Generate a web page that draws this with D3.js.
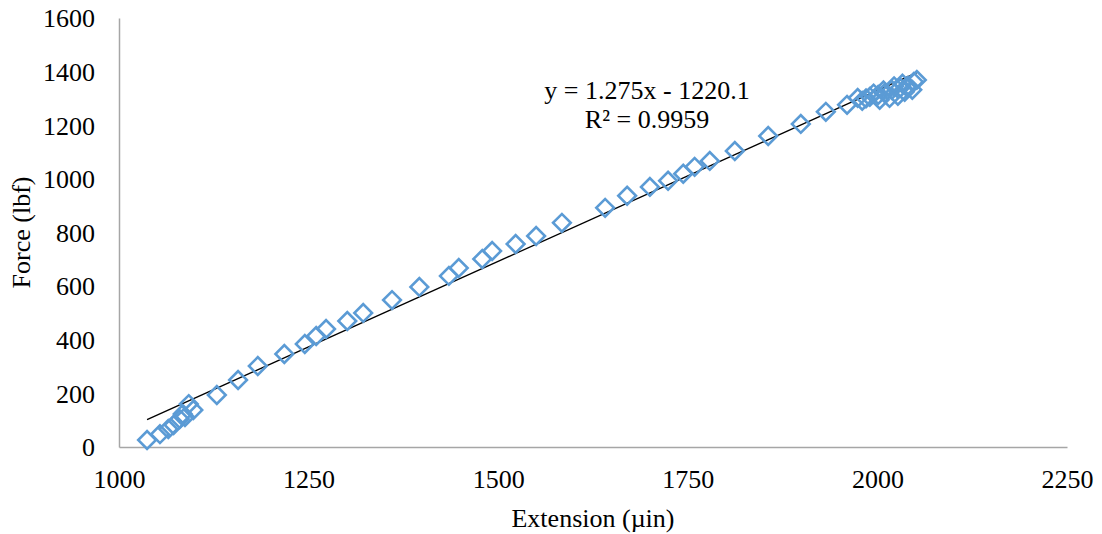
<!DOCTYPE html>
<html>
<head>
<meta charset="utf-8">
<script src="https://cdn.jsdelivr.net/npm/d3@7"></script>
<style>
  html, body { margin: 0; padding: 0; background: #fff; }
  svg { display: block; }
  text { font-family: "Liberation Serif", "Times New Roman", serif; fill: #000; }
</style>
</head>
<body>
<svg id="chart" width="1102" height="534"></svg>
<script>
// ---- data ----
const extension = [
  1037, 1054, 1065, 1072, 1080, 1084, 1092, 1098, 1087,
  1129, 1157, 1183, 1218, 1245, 1260, 1273, 1301, 1322,
  1360, 1396, 1435, 1448, 1479, 1492, 1523, 1550, 1584,
  1641, 1670, 1700, 1724, 1744, 1759, 1779, 1812, 1856,
  1899, 1932, 1960, 1974, 1980, 1990, 2001, 2010, 2019,
  2030, 2040, 2048, 2003, 2016, 2027, 2036, 2046, 2052,
  1985, 1995, 2008, 2022, 2033
];
const force = [
  26, 48, 67, 82, 104, 123, 160, 138, 112,
  194, 250, 302, 347, 384, 414, 440, 470, 500,
  548, 597, 638, 668, 701, 731, 757, 787, 836,
  892, 937, 970, 993, 1019, 1045, 1067, 1104, 1160,
  1205, 1250, 1276, 1302, 1291, 1306, 1313, 1321, 1332,
  1340, 1347, 1362, 1295, 1302, 1310, 1325, 1332, 1369,
  1300, 1318, 1330, 1345, 1355
];
const trendSlope = 1.275;
const trendIntercept = -1220.1;
const xTicks = [1000, 1250, 1500, 1750, 2000, 2250];
const yTicks = [0, 200, 400, 600, 800, 1000, 1200, 1400, 1600];
const equationLines = ["y = 1.275x - 1220.1", "R² = 0.9959"];
const xTitle = "Extension (µin)";
const yTitle = "Force (lbf)";

// ---- layout ----
const svg = d3.select("#chart");
const mLeft = 119, mRight = 1067, mTop = 18, mBottom = 447;
const x = d3.scaleLinear().domain([1000, 2250]).range([mLeft, mRight]);
const y = d3.scaleLinear().domain([0, 1600]).range([mBottom, mTop]);
const fontSize = 26;

// axes
const xAxis = d3.axisBottom(x).tickValues(xTicks).tickSize(0).tickPadding(23).tickFormat(d3.format("d"));
const yAxis = d3.axisLeft(y).tickValues(yTicks).tickSize(0).tickPadding(24).tickFormat(d3.format("d"));

const gx = svg.append("g").attr("transform", `translate(0,${mBottom})`).call(xAxis);
const gy = svg.append("g").attr("transform", `translate(${mLeft},0)`).call(yAxis);
[gx, gy].forEach(g => {
  g.select(".domain").attr("stroke", "#a6a6a6").attr("stroke-width", 1.5);
  g.selectAll("text").style("font-family", '"Liberation Serif", "Times New Roman", serif')
    .style("font-size", fontSize + "px").attr("fill", "#000");
});
gx.selectAll("text").attr("dy", "0.71em");
gy.selectAll("text").attr("dy", "0.34em");

// trendline
const xMin = d3.min(extension), xMax = d3.max(extension);
svg.append("line")
  .attr("x1", x(xMin)).attr("y1", y(trendSlope * xMin + trendIntercept))
  .attr("x2", x(xMax)).attr("y2", y(trendSlope * xMax + trendIntercept))
  .attr("stroke", "#000").attr("stroke-width", 1.3);

// markers (diamonds)
const s = 12.5;
svg.append("g").selectAll("rect")
  .data(extension.map((e, i) => [e, force[i]]))
  .join("rect")
  .attr("x", -s / 2).attr("y", -s / 2).attr("width", s).attr("height", s)
  .attr("transform", d => `translate(${x(d[0])},${y(d[1])}) rotate(45)`)
  .attr("fill", "none").attr("stroke", "#5B9BD5").attr("stroke-width", 2.6);

// equation label
svg.append("g").selectAll("text").data(equationLines).join("text")
  .attr("x", 647).attr("y", (d, i) => 99 + i * 29)
  .attr("text-anchor", "middle").style("font-size", fontSize + "px")
  .text(d => d);

// axis titles
svg.append("text").attr("x", (mLeft + mRight) / 2).attr("y", 527)
  .attr("text-anchor", "middle").style("font-size", fontSize + "px").text(xTitle);
svg.append("text").attr("transform", `translate(30,${(mTop + mBottom) / 2}) rotate(-90)`)
  .attr("text-anchor", "middle").style("font-size", fontSize + "px").text(yTitle);
</script>
</body>
</html>
